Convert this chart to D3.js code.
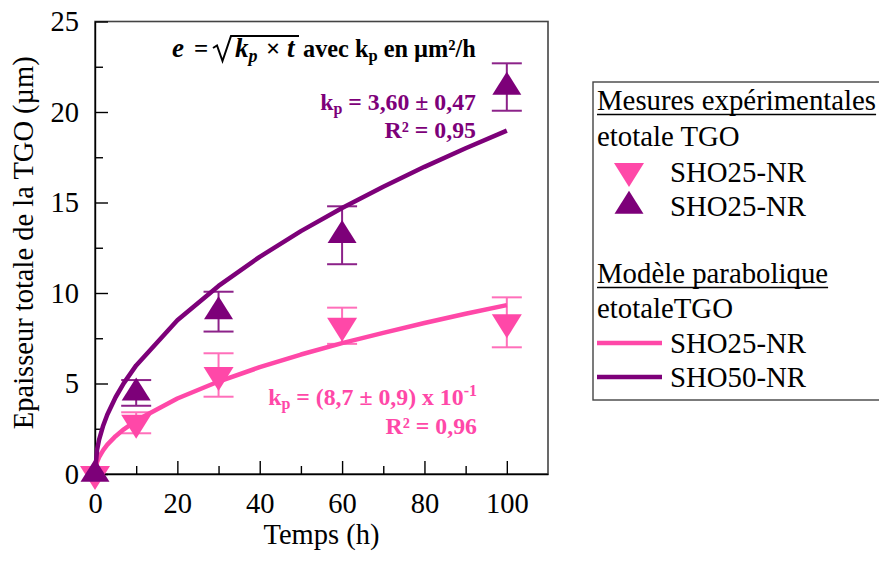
<!DOCTYPE html>
<html lang="fr"><head><meta charset="utf-8">
<script src="https://cdn.jsdelivr.net/npm/d3@7"></script>
<style>
body{margin:0;background:#fff}
svg{display:block}
svg text{font-family:"Liberation Serif","Times New Roman",serif !important;white-space:pre}
</style>
</head><body>
<script>
// ---- data ----
const times = [0, 10, 30, 60, 100];
const sho25 = [0, 2.83, 5.47, 8.19, 8.38];
const err25 = [0, 0.58, 1.2, 1.0, 1.38];
const sho50 = [0, 4.48, 8.97, 13.19, 21.38];
const err50 = [0, 0.71, 1.1, 1.6, 1.31];
const modelT  = [0, 0.5, 1, 2, 3, 5, 7, 10, 20, 30, 40, 50, 60, 70, 80, 90, 100];
const model25 = [0, 0.66, 0.93, 1.32, 1.62, 2.09, 2.47, 2.95, 4.17, 5.11, 5.90, 6.60, 7.23, 7.80, 8.34, 8.85, 9.33];
const model50 = [0, 1.34, 1.90, 2.68, 3.29, 4.24, 5.02, 6.00, 8.49, 10.39, 12.00, 13.42, 14.70, 15.87, 16.97, 18.00, 18.97];
const xMajorTicks = [0, 20, 40, 60, 80, 100];
const xMinorTicks = [10, 30, 50, 70, 90];
const yMajorTicks = [0, 5, 10, 15, 20, 25];
const yMinorTicks = [2.5, 7.5, 12.5, 17.5, 22.5];
const measureLabels = ["SHO25-NR", "SHO25-NR"];
const modelLabels = ["SHO25-NR", "SHO50-NR"];

// ---- setup ----
const W = 879, H = 562;
const PINK = "#ff48a8", PURPLE = "#7d0079";
const PINK_ERR = "#ff6fba", PURPLE_ERR = "#8c2289";
const AX_FS = 28.5, LG_FS = 28.8;
const svg = d3.select("body").append("svg").attr("width", W).attr("height", H);

const x = d3.scaleLinear().domain([0, 110]).range([95, 548]);
const y = d3.scaleLinear().domain([0, 25]).range([474, 21.5]);

// frame (top / right)
svg.append("rect").attr("x", x(0)).attr("y", y(25)).attr("width", x(110) - x(0)).attr("height", y(0) - y(25))
  .attr("fill", "none").attr("stroke", "#444").attr("stroke-width", 1.6);

// axes
function styleAxis(g) {
  g.attr("font-family", null);
  g.selectAll("path,line").attr("stroke", "#000").attr("stroke-width", 1.4);
  g.selectAll("text").attr("font-size", AX_FS).attr("fill", "#000");
}
svg.append("g").attr("transform", `translate(0,${y(0)})`)
  .call(d3.axisBottom(x).tickValues(xMajorTicks).tickSize(-13).tickSizeOuter(0).tickPadding(19).tickFormat(d3.format("d")))
  .call(styleAxis);
svg.append("g").attr("transform", `translate(0,${y(0)})`)
  .call(d3.axisBottom(x).tickValues(xMinorTicks).tickSize(-8).tickSizeOuter(0).tickFormat(""))
  .call(g => g.select(".domain").remove()).call(styleAxis);
svg.append("g").attr("transform", `translate(${x(0)},0)`)
  .call(d3.axisLeft(y).tickValues(yMajorTicks).tickSize(-13).tickSizeOuter(0).tickPadding(16).tickFormat(d3.format("d")))
  .call(styleAxis);
svg.append("g").attr("transform", `translate(${x(0)},0)`)
  .call(d3.axisLeft(y).tickValues(yMinorTicks).tickSize(-8).tickSizeOuter(0).tickFormat(""))
  .call(g => g.select(".domain").remove()).call(styleAxis);

// axis titles
svg.append("text").attr("x", (x(0) + x(110)) / 2).attr("y", 544).attr("text-anchor", "middle")
  .attr("font-size", AX_FS).text("Temps (h)");
svg.append("text").attr("transform", `translate(33,${(y(0) + y(25)) / 2 - 5}) rotate(-90)`)
  .attr("text-anchor", "middle").attr("font-size", AX_FS).text("Epaisseur totale de la TGO (µm)");

// error bars
function errorBars(vals, errs, color) {
  const g = svg.append("g").attr("stroke", color).attr("stroke-width", 2);
  times.forEach((t, i) => {
    if (!errs[i]) return;
    const cx = x(t), y1 = y(vals[i] - errs[i]), y2 = y(vals[i] + errs[i]);
    g.append("line").attr("x1", cx).attr("x2", cx).attr("y1", y1).attr("y2", y2);
    g.append("line").attr("x1", cx - 15).attr("x2", cx + 15).attr("y1", y1).attr("y2", y1);
    g.append("line").attr("x1", cx - 15).attr("x2", cx + 15).attr("y1", y2).attr("y2", y2);
  });
}
errorBars(sho25, err25, PINK_ERR);
errorBars(sho50, err50, PURPLE_ERR);

// model curves
const line = d3.line().x(d => x(d[0])).y(d => y(d[1]));
svg.append("path").datum(modelT.map((t, i) => [t, model25[i]])).attr("d", line)
  .attr("fill", "none").attr("stroke", PINK).attr("stroke-width", 4.5).attr("stroke-linejoin", "round");
svg.append("path").datum(modelT.map((t, i) => [t, model50[i]])).attr("d", line)
  .attr("fill", "none").attr("stroke", PURPLE).attr("stroke-width", 4.5).attr("stroke-linejoin", "round");

// markers
function downTri(cx, cy) { return `M${cx - 15},${cy - 8}L${cx + 15},${cy - 8}L${cx},${cy + 16}Z`; }
function upTri(cx, cy) { return `M${cx - 14.5},${cy + 7.7}L${cx + 14.5},${cy + 7.7}L${cx},${cy - 15.3}Z`; }
times.forEach((t, i) => svg.append("path").attr("d", downTri(x(t), y(sho25[i]))).attr("fill", PINK));
times.forEach((t, i) => svg.append("path").attr("d", upTri(x(t), y(sho50[i]))).attr("fill", PURPLE));

// formula
(function () {
  const g = svg.append("g").attr("font-weight", "bold").attr("fill", "#000");
  const base = 57;
  let cx = 172;
  function put(txt, x0, opts) {
    opts = opts || {};
    if (x0 !== null) cx = x0;
    const t = g.append("text").attr("x", cx).attr("y", base + (opts.dy || 0))
      .attr("font-size", opts.size || 24.3).attr("font-style", opts.italic ? "italic" : "normal").text(txt);
    cx += t.node().getComputedTextLength();
  }
  put("e", 172, { italic: true, size: 27 });
  put("=", 194, { size: 25 });
  g.append("path").attr("d", "M213,48L217,45.5L222.5,61L231,36L299,36")
    .attr("fill", "none").attr("stroke", "#000").attr("stroke-width", 2);
  put("k", 235, { italic: true, size: 27 });
  put("p", null, { italic: true, size: 18, dy: 5 });
  put("×", 266, { size: 25 });
  put("t", 287, { italic: true, size: 27 });
  put("avec k", 303);
  put("p", null, { size: 16.5, dy: 4 });
  put(" en µm²/h", null);
})();

// annotations
function ann(color, xr, yb, parts) {
  const t = svg.append("text").attr("x", xr).attr("y", yb).attr("text-anchor", "end")
    .attr("font-size", 23.8).attr("font-weight", "bold").attr("fill", color);
  parts.forEach(p => {
    const s = t.append("tspan").text(p.t);
    if (p.size) s.attr("font-size", p.size);
    if (p.dy) s.attr("dy", p.dy);
  });
}
ann(PURPLE, 476, 110, [{ t: "k" }, { t: "p", size: 16, dy: 4 }, { t: " = 3,60 ± 0,47", dy: -4 }]);
ann(PURPLE, 476, 138, [{ t: "R² = 0,95" }]);
ann(PINK, 477, 405, [{ t: "k" }, { t: "p", size: 16, dy: 4 }, { t: " = (8,7 ± 0,9) x 10", dy: -4 }, { t: "-1", size: 16, dy: -9 }]);
ann(PINK, 477, 434, [{ t: "R² = 0,96" }]);

// legend
const lg = svg.append("g");
lg.append("rect").attr("x", 593).attr("y", 82).attr("width", 300).attr("height", 318)
  .attr("fill", "#fff").attr("stroke", "#444").attr("stroke-width", 1.4);
function ltext(txt, lx, ly, underline) {
  const t = lg.append("text").attr("x", lx).attr("y", ly).attr("font-size", LG_FS).text(txt);
  if (underline) {
    const w = t.node().getComputedTextLength();
    lg.append("line").attr("x1", lx).attr("x2", lx + w).attr("y1", ly + 4.5).attr("y2", ly + 4.5)
      .attr("stroke", "#000").attr("stroke-width", 1.4);
  }
}
ltext("Mesures expérimentales", 597, 110, true);
ltext("etotale TGO", 597, 146);
lg.append("path").attr("d", downTri(629, 171)).attr("fill", PINK);
ltext(measureLabels[0], 670, 182);
lg.append("path").attr("d", upTri(629, 206)).attr("fill", PURPLE);
ltext(measureLabels[1], 670, 216);
ltext("Modèle parabolique", 597, 283, true);
ltext("etotaleTGO", 597, 318);
lg.append("line").attr("x1", 597).attr("x2", 662).attr("y1", 343).attr("y2", 343).attr("stroke", PINK).attr("stroke-width", 4.5);
ltext(modelLabels[0], 670, 353);
lg.append("line").attr("x1", 597).attr("x2", 662).attr("y1", 377).attr("y2", 377).attr("stroke", PURPLE).attr("stroke-width", 4.5);
ltext(modelLabels[1], 670, 387);
</script>
</body></html>
